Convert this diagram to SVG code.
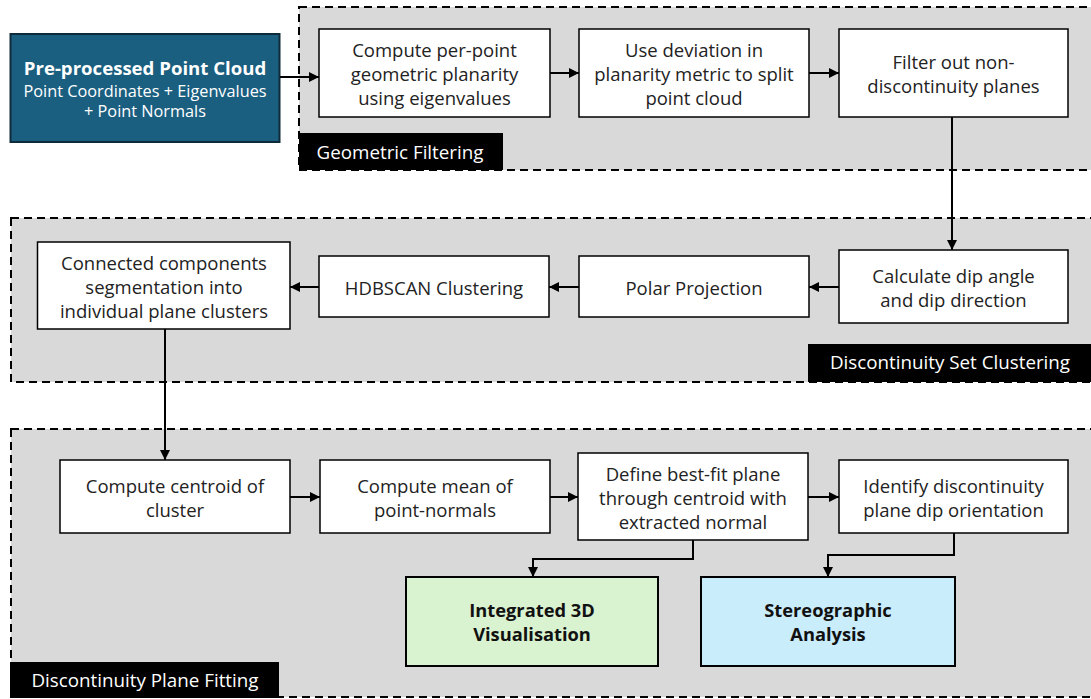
<svg xmlns="http://www.w3.org/2000/svg" width="1091" height="699" viewBox="0 0 1091 699">
<defs>
<marker id="ah" viewBox="0 0 10 10" refX="10" refY="5" markerWidth="5" markerHeight="5" orient="auto" markerUnits="strokeWidth">
<path d="M0,0 L10,5 L0,10 z" fill="#000"/>
</marker>
<style>
.grp{fill:#d9d9d9;stroke:#000;stroke-width:2;stroke-dasharray:8 5}
.lbl{fill:#000}
.lt{font-family:"Open Sans","Liberation Sans",sans-serif;font-size:18.8px;fill:#fff;text-anchor:middle;dominant-baseline:central}
.box{fill:#fff;stroke:#000;stroke-width:1.5}
.t{font-family:"Open Sans","Liberation Sans",sans-serif;font-size:18.5px;fill:#222;text-anchor:middle;dominant-baseline:central}
.tb{font-family:"Open Sans","Liberation Sans",sans-serif;font-size:18.3px;font-weight:bold;fill:#111;text-anchor:middle;dominant-baseline:central}
.c{fill:none;stroke:#000;stroke-width:2;marker-end:url(#ah)}
</style>
</defs>
<rect width="1091" height="699" fill="#fff"/>
<g id="group-geometric-filtering">
<rect class="grp" x="299" y="7" width="800" height="163"/>
<rect class="lbl" x="299" y="133" width="204" height="37"/>
<text class="lt" x="400" y="152">Geometric Filtering</text>
</g>
<g id="group-set-clustering">
<rect class="grp" x="11" y="218" width="1088" height="164"/>
<rect class="lbl" x="808" y="344" width="283" height="38"/>
<text class="lt" x="950" y="362">Discontinuity Set Clustering</text>
</g>
<g id="group-plane-fitting">
<rect class="grp" x="11" y="429" width="1088" height="268"/>
<rect class="lbl" x="10" y="662" width="269" height="36"/>
<text class="lt" x="145" y="680">Discontinuity Plane Fitting</text>
</g>
<g id="input">
<rect x="10.5" y="34" width="269" height="108" fill="#1a5e80" stroke="#0e2a3b" stroke-width="2"/>
<text class="tb" x="145" y="67" style="fill:#fff;font-size:18.6px">Pre-processed Point Cloud</text>
<text class="t" x="145" y="91" style="fill:#fff;font-size:16.3px">Point Coordinates + Eigenvalues</text>
<text class="t" x="145" y="111" style="fill:#fff;font-size:16.3px">+ Point Normals</text>
</g>
<g id="planarity">
<rect class="box" x="319" y="29" width="231" height="88"/>
<text class="t" x="434.5" y="49">Compute per-point</text>
<text class="t" x="434.5" y="73">geometric planarity</text>
<text class="t" x="434.5" y="97">using eigenvalues</text>
</g>
<g id="split">
<rect class="box" x="579" y="29" width="230" height="88"/>
<text class="t" x="694" y="49">Use deviation in</text>
<text class="t" x="694" y="73">planarity metric to split</text>
<text class="t" x="694" y="97">point cloud</text>
</g>
<g id="filter">
<rect class="box" x="839" y="29" width="229" height="88"/>
<text class="t" x="953.5" y="61">Filter out non-</text>
<text class="t" x="953.5" y="85">discontinuity planes</text>
</g>
<g id="dip">
<rect class="box" x="839" y="250" width="229" height="73"/>
<text class="t" x="953.5" y="275">Calculate dip angle</text>
<text class="t" x="953.5" y="299">and dip direction</text>
</g>
<g id="polar">
<rect class="box" x="579" y="256" width="230" height="61"/>
<text class="t" x="694" y="287">Polar Projection</text>
</g>
<g id="hdbscan">
<rect class="box" x="319" y="256" width="230" height="61"/>
<text class="t" x="434" y="287">HDBSCAN Clustering</text>
</g>
<g id="connected">
<rect class="box" x="37.5" y="242" width="252.5" height="87"/>
<text class="t" x="164" y="262">Connected components</text>
<text class="t" x="164" y="286">segmentation into</text>
<text class="t" x="164" y="310">individual plane clusters</text>
</g>
<g id="centroid">
<rect class="box" x="60" y="460" width="230" height="73"/>
<text class="t" x="175" y="485">Compute centroid of</text>
<text class="t" x="175" y="509">cluster</text>
</g>
<g id="mean">
<rect class="box" x="320" y="460" width="230" height="73"/>
<text class="t" x="435" y="485">Compute mean of</text>
<text class="t" x="435" y="509">point-normals</text>
</g>
<g id="bestfit">
<rect class="box" x="578" y="453" width="230" height="87"/>
<text class="t" x="693" y="473">Define best-fit plane</text>
<text class="t" x="693" y="497">through centroid with</text>
<text class="t" x="693" y="521">extracted normal</text>
</g>
<g id="orientation">
<rect class="box" x="839" y="460" width="229" height="73"/>
<text class="t" x="953.5" y="485">Identify discontinuity</text>
<text class="t" x="953.5" y="509">plane dip orientation</text>
</g>
<g id="visualisation">
<rect x="406" y="577" width="252" height="89" fill="#d9f2d0" stroke="#000" stroke-width="2"/>
<text class="tb" x="532" y="609">Integrated 3D</text>
<text class="tb" x="532" y="633">Visualisation</text>
</g>
<g id="stereographic">
<rect x="701" y="577" width="254" height="89" fill="#caedfb" stroke="#000" stroke-width="2"/>
<text class="tb" x="828" y="609">Stereographic</text>
<text class="tb" x="828" y="633">Analysis</text>
</g>
<g id="connectors">
<path class="c" d="M280,77 H319"/>
<path class="c" d="M550,73 H579"/>
<path class="c" d="M809,73 H839"/>
<path class="c" d="M952,117 V250"/>
<path class="c" d="M839,287 H809"/>
<path class="c" d="M579,287 H549"/>
<path class="c" d="M319,287 H290"/>
<path class="c" d="M165,329 V460"/>
<path class="c" d="M290,497 H320"/>
<path class="c" d="M550,497 H578"/>
<path class="c" d="M808,497 H839"/>
<path class="c" d="M693,540 V559 H533 V577"/>
<path class="c" d="M954,533 V555 H828 V577"/>
</g>
</svg>
